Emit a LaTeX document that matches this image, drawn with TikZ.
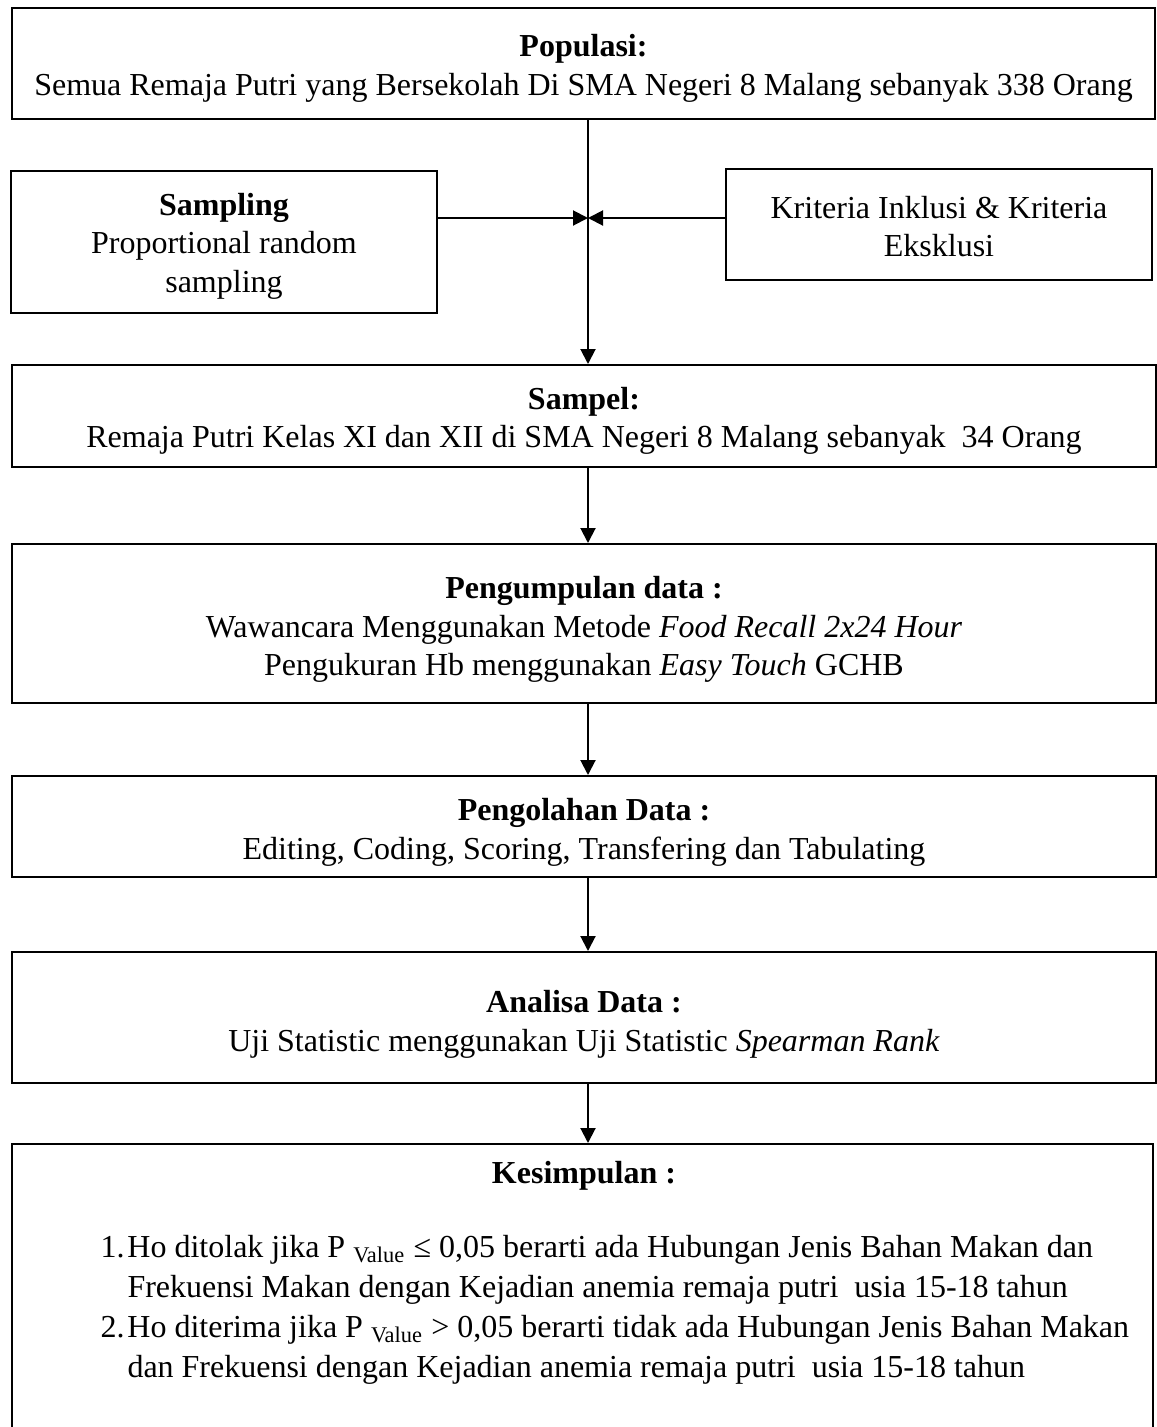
\documentclass[tikz,border=0pt]{standalone}
\usepackage{fontspec}
\setmainfont{Liberation Serif}
\usetikzlibrary{arrows.meta}
\begin{document}
\begin{tikzpicture}[x=0.4pt,y=-0.4pt,
  box/.style={draw, line width=0.8pt, inner sep=0pt},
  boxtext/.style={inner sep=0pt, align=center, font=\fontsize{12.8}{15.4}\selectfont},
  txt/.style={inner sep=0pt, font=\fontsize{12.8}{16}\selectfont},
  conn/.style={line width=0.8pt, -{Triangle[length=6pt,width=6pt]}}]
\useasboundingbox (0,0) rectangle (1157,1427);
\clip (0,0) rectangle (1157,1427);
% boxes
\node[box, minimum width=457.2pt, minimum height=44.4pt] (pop) at (583.5,63.5) {};
\node[box, minimum width=170.4pt, minimum height=56.8pt] (samp) at (224,242) {};
\node[box, minimum width=170.4pt, minimum height=44.4pt] (krit) at (939,224.5) {};
\node[box, minimum width=457.6pt, minimum height=40.8pt] (sampel) at (584,416) {};
\node[box, minimum width=457.6pt, minimum height=63.6pt] (kump) at (584,623.5) {};
\node[box, minimum width=457.6pt, minimum height=40.4pt] (olah) at (584,826.5) {};
\node[box, minimum width=457.6pt, minimum height=52.4pt] (anal) at (584,1017.5) {};
\node[box, minimum width=456.4pt, minimum height=118.4pt] (kes) at (582.5,1292) {};
% texts
\node[boxtext, yshift=-2pt] (popt) at (pop.center)
  {\textbf{Populasi:}\\Semua Remaja Putri yang Bersekolah Di SMA Negeri 8 Malang sebanyak 338 Orang};
\node[boxtext, yshift=-1.7pt] (sampt) at (samp.center)
  {\textbf{Sampling}\\Proportional random\\sampling};
\node[boxtext, yshift=-0.9pt] (kritt) at (krit.center)
  {Kriteria Inklusi \& Kriteria\\Eksklusi};
\node[boxtext, yshift=-2pt] (sampelt) at (sampel.center)
  {\textbf{Sampel:}\\Remaja Putri Kelas XI dan XII di SMA Negeri 8 Malang sebanyak\ \ 34 Orang};
\node[boxtext, yshift=-2.4pt] (kumpt) at (kump.center)
  {\textbf{Pengumpulan data :}\\Wawancara Menggunakan Metode \textit{Food Recall 2x24 Hour}\\Pengukuran Hb menggunakan \textit{Easy Touch} GCHB};
\node[boxtext, yshift=-2.4pt] (olaht) at (olah.center)
  {\textbf{Pengolahan Data :}\\Editing, Coding, Scoring, Transfering dan Tabulating};
\node[boxtext, yshift=-2.7pt] (analt) at (anal.center)
  {\textbf{Analisa Data :}\\Uji Statistic menggunakan Uji Statistic \textit{Spearman Rank}};
\node[txt, anchor=base] (kesh) at (584,1183) {\textbf{Kesimpulan :}};
\node[txt, anchor=base west] (kesl) at (100,1257)
  {\begin{tabular}[t]{@{}l@{}l@{}}
   \makebox[10.8pt][l]{1.} & Ho ditolak jika P \textsubscript{Value} ≤ 0,05 berarti ada Hubungan Jenis Bahan Makan dan\\
   & Frekuensi Makan dengan Kejadian anemia remaja putri\ \ usia 15-18 tahun\\
   \makebox[10.8pt][l]{2.} & Ho diterima jika P \textsubscript{Value} > 0,05 berarti tidak ada Hubungan Jenis Bahan Makan\\
   & dan Frekuensi dengan Kejadian anemia remaja putri\ \ usia 15-18 tahun
  \end{tabular}};
% connectors
\coordinate (mid) at (588,218);
\draw[conn] (pop.south -| mid) -- (sampel.north -| mid);
\draw[conn] (samp.east |- mid) -- (mid);
\draw[conn] (krit.west |- mid) -- (mid);
\draw[conn] (sampel.south -| mid) -- (kump.north -| mid);
\draw[conn] (kump.south -| mid) -- (olah.north -| mid);
\draw[conn] (olah.south -| mid) -- (anal.north -| mid);
\draw[conn] (anal.south -| mid) -- (kes.north -| mid);
\end{tikzpicture}
\end{document}
